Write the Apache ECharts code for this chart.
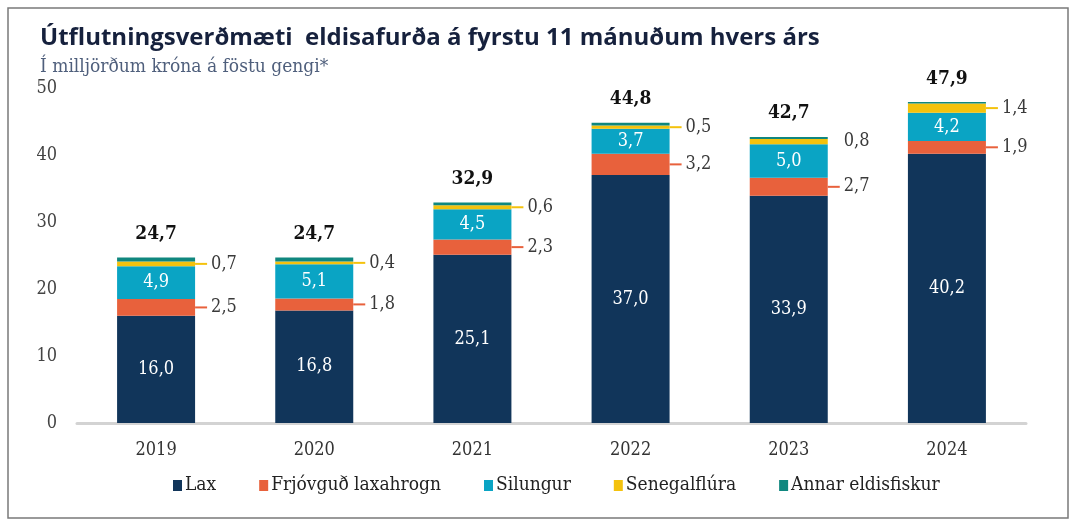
<!DOCTYPE html>
<html>
<head>
<meta charset="utf-8">
<script src="https://cdn.jsdelivr.net/npm/echarts@6/dist/echarts.min.js"></script>
<style>
  html, body { margin: 0; padding: 0; background: #fff; }
  #chart { width: 1078px; height: 530px; }
</style>
</head>
<body>
<div id="chart"></div>
<script>
const years = ['2019', '2020', '2021', '2022', '2023', '2024'];
const lax = [16.0, 16.8, 25.1, 37.0, 33.9, 40.2];
const hrogn = [2.5, 1.8, 2.3, 3.2, 2.7, 1.9];
const silungur = [4.9, 5.1, 4.5, 3.7, 5.0, 4.2];
const senegal = [0.7, 0.4, 0.6, 0.5, 0.8, 1.4];
const annar = [0.6, 0.6, 0.4, 0.4, 0.3, 0.2];
const totals = [24.7, 24.7, 32.9, 44.8, 42.7, 47.9];
// engin tengilína við 0,8 árið 2023
const senegalNoLine = [false, false, false, false, true, false];

const serif = '"DejaVu Serif Condensed", "Liberation Serif", serif';
const colors = {
  lax: '#11355a',
  hrogn: '#e8613c',
  silungur: '#0aa4c4',
  senegal: '#f4c20d',
  annar: '#10877f'
};

const fmt = v => v.toFixed(1).replace('.', ',');

function outsideLabel(color, skip) {
  return {
    show: true,
    position: 'right',
    distance: 0,
    formatter: p => (skip && skip[p.dataIndex] ? '{n| }' : '{l| }') + '{v|' + fmt(p.value) + '}',
    rich: {
      l: { width: 12, height: 2, backgroundColor: color },
      n: { width: 12, height: 2 },
      v: { padding: [0, 0, 0, 4], fontSize: 18, color: '#3a3a3a', fontFamily: serif }
    }
  };
}

const chart = echarts.init(document.getElementById('chart'));
const option = {
  animation: false,
  backgroundColor: '#fff',
  title: {
    text: 'Útflutningsverðmæti  eldisafurða á fyrstu 11 mánuðum hvers árs',
    subtext: 'Í milljörðum króna á föstu gengi*',
    left: 35,
    top: 21,
    itemGap: 8,
    textStyle: {
      fontFamily: '"Open Sans", "Noto Sans", sans-serif',
      fontWeight: 'bold',
      fontSize: 24,
      color: '#16213d'
    },
    subtextStyle: {
      fontFamily: serif,
      fontStyle: 'normal',
      fontSize: 19,
      color: '#4f5f7c'
    }
  },
  graphic: [{
    type: 'rect',
    shape: { x: 8, y: 8, width: 1060, height: 510 },
    style: { fill: 'none', stroke: '#7a7a7a', lineWidth: 1.5 },
    silent: true
  }],
  legend: {
    bottom: 30,
    left: 168,
    itemWidth: 9,
    itemHeight: 11,
    itemGap: 43,
    icon: 'rect',
    textStyle: { fontFamily: serif, fontSize: 19, color: '#222', padding: [0, 0, 0, -2] },
    data: ['Lax', 'Frjóvguð laxahrogn', 'Silungur', 'Senegalflúra', 'Annar eldisfiskur']
  },
  grid: { left: 77, right: 52, top: 88, bottom: 107 },
  xAxis: {
    type: 'category',
    data: years,
    axisLine: { lineStyle: { color: '#d3d3d3', width: 3 } },
    axisTick: { show: false },
    axisLabel: { fontFamily: serif, fontSize: 18, color: '#333', margin: 18 }
  },
  yAxis: {
    type: 'value',
    min: 0,
    max: 50,
    interval: 10,
    splitLine: { show: false },
    axisLine: { show: false },
    axisTick: { show: false },
    axisLabel: { fontFamily: serif, fontSize: 18, color: '#444', margin: 20 }
  },
  series: [
    {
      name: 'Lax', type: 'bar', stack: 'a', data: lax, barWidth: 78,
      itemStyle: { color: colors.lax },
      label: { show: true, position: 'inside', formatter: p => fmt(p.value), fontFamily: serif, fontSize: 18, color: '#fff' }
    },
    {
      name: 'Frjóvguð laxahrogn', type: 'bar', stack: 'a', data: hrogn,
      itemStyle: { color: colors.hrogn },
      label: outsideLabel(colors.hrogn)
    },
    {
      name: 'Silungur', type: 'bar', stack: 'a', data: silungur,
      itemStyle: { color: colors.silungur },
      label: { show: true, position: 'inside', formatter: p => fmt(p.value), fontFamily: serif, fontSize: 18, color: '#fff' }
    },
    {
      name: 'Senegalflúra', type: 'bar', stack: 'a', data: senegal,
      itemStyle: { color: colors.senegal },
      label: outsideLabel(colors.senegal, senegalNoLine)
    },
    {
      name: 'Annar eldisfiskur', type: 'bar', stack: 'a', data: annar,
      itemStyle: { color: colors.annar },
      label: {
        show: true, position: 'top', distance: 14,
        formatter: p => fmt(totals[p.dataIndex]),
        fontFamily: serif, fontSize: 19, fontWeight: 'bold', color: '#111'
      }
    }
  ]
};
chart.setOption(option);
</script>
</body>
</html>
